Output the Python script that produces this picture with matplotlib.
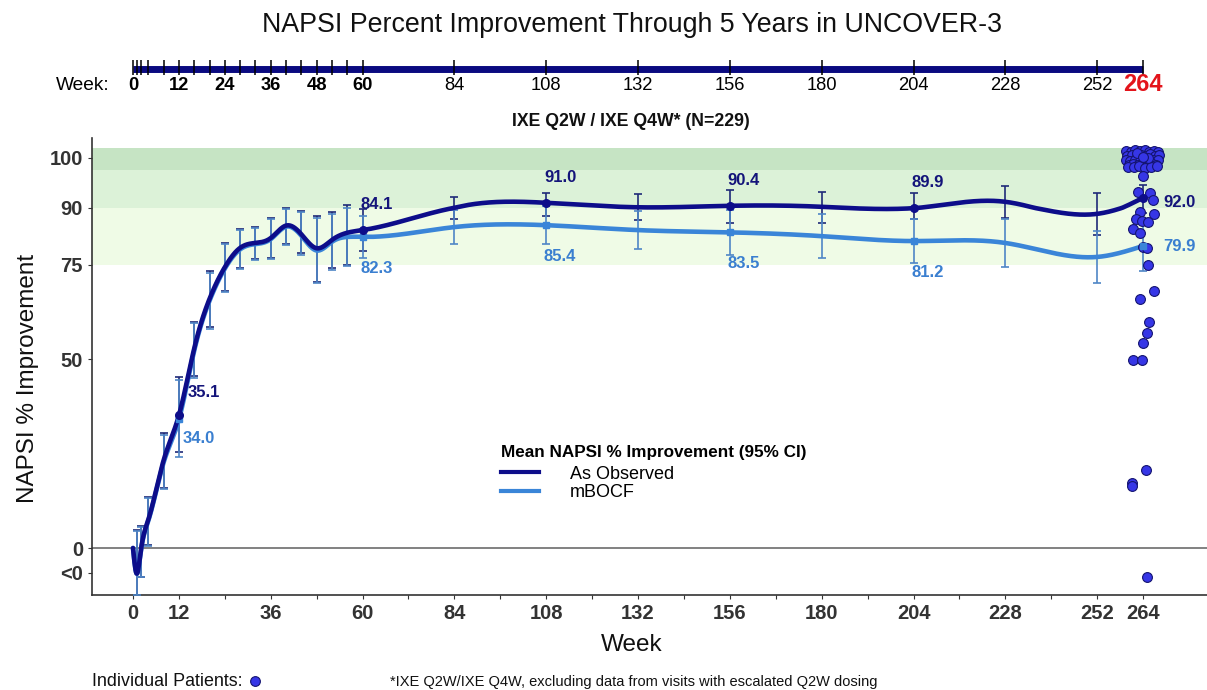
import numpy as np
import matplotlib
matplotlib.use("Agg")
import matplotlib.pyplot as plt
from matplotlib.lines import Line2D

plt.rcParams['font.family'] = ['Liberation Sans', 'DejaVu Sans']

# ---------------- data ----------------
weeks = [0, 1, 2, 4, 8, 12, 16, 20, 24, 28, 32, 36, 40, 44, 48, 52, 56, 60,
         84, 108, 132, 156, 180, 204, 228, 252, 264]

obs_mean = [0, -6.8, -1.0, 7.5, 23.2, 35.1, 52.8, 65.9, 74.3, 79.4, 80.7, 82.0,
            85.3, 83.0, 79.3, 81.5, 83.4, 84.1, 90.0, 91.0, 90.1, 90.4, 90.2,
            89.9, 91.2, 88.4, 92.0]
obs_lo = [np.nan, -12.4, -7.7, 0.8, 15.9, 25.4, 45.5, 58.5, 68.0, 74.1, 76.5,
          76.7, 80.4, 78.0, 70.4, 74.0, 74.9, 78.5, 87.0, 87.8, 86.8, 86.0,
          86.0, 87.0, 87.3, 82.8, 88.5]
obs_hi = [np.nan, 4.8, 5.8, 13.5, 30.4, 45.2, 59.8, 73.3, 80.7, 84.4, 84.9,
          87.3, 90.0, 89.2, 87.8, 88.9, 90.6, 89.7, 92.2, 93.0, 92.8, 93.6,
          93.2, 93.0, 94.4, 93.0, 94.6]

bocf_mean = [0, -6.8, -1.2, 7.2, 22.6, 34.0, 52.2, 65.4, 73.9, 79.0, 80.4, 81.7,
             85.0, 82.6, 78.7, 81.0, 82.3, 82.3, 84.9, 85.4, 84.1, 83.5, 82.5,
             81.2, 80.7, 77.0, 79.9]
bocf_lo = [np.nan, -12.4, -7.7, 0.6, 15.5, 24.1, 45.0, 58.0, 67.6, 73.8, 76.2,
           76.4, 80.1, 77.6, 70.0, 73.6, 74.6, 76.7, 80.4, 80.4, 79.1, 77.5,
           76.7, 75.4, 74.3, 70.1, 73.3]
bocf_hi = [np.nan, 4.6, 5.6, 13.2, 30.0, 44.4, 59.4, 72.8, 80.3, 84.1, 84.6,
           87.0, 89.8, 88.8, 87.4, 88.4, 90.0, 87.9, 89.4, 90.4, 89.1, 89.5,
           88.3, 87.0, 87.1, 83.9, 86.5]

labelled_weeks = [12, 60, 108, 156, 204, 264]

# individual patients at week 264 (jittered horizontally)
pat_week = [259.6, 260.8, 262.0, 263.2, 264.4, 265.6, 266.8, 268.0, 259.9, 261.1,
            262.3, 263.5, 264.7, 265.9, 267.1, 268.2, 259.5, 260.7, 261.9, 263.1,
            264.3, 265.5, 266.7, 267.9, 260.2, 261.4, 262.6, 263.8, 265.0, 266.2,
            267.4, 260.0, 261.6, 263.0, 264.6, 266.0, 267.6, 262.4, 265.2, 264.0,
            264.0, 262.7, 265.8, 266.6, 263.2, 266.9, 262.2, 263.7, 265.3, 261.4,
            263.2, 264.0, 265.0, 265.3, 266.9, 263.2, 265.6, 265.0, 264.0, 261.4,
            263.7, 264.8, 261.1, 261.1, 265.0]
pat_value = [101.4, 101.2, 101.5, 101.3, 101.5, 101.1, 101.4, 101.2, 100.3, 100.6,
             100.2, 100.5, 100.4, 100.7, 100.3, 100.5, 99.5, 99.3, 99.6, 99.4,
             99.7, 99.3, 99.5, 99.6, 98.6, 98.8, 98.5, 98.7, 98.4, 98.9,
             98.6, 98.2, 98.1, 98.3, 98.0, 98.2, 98.3, 100.9, 99.9, 100.1,
             96.4, 93.2, 93.0, 91.6, 88.9, 88.4, 87.0, 86.5, 86.2, 84.4,
             83.3, 79.6, 79.4, 74.9, 68.0, 65.9, 59.8, 56.9, 54.2, 49.7,
             49.7, 20.6, 17.2, 16.4, -7.7]

timeline_weeks = [0, 1, 2, 4, 8, 12, 16, 20, 24, 28, 32, 36, 40, 44, 48, 52, 56,
                  60, 84, 108, 132, 156, 180, 204, 228, 252, 264]
timeline_labels = [0, 12, 24, 36, 48, 60, 84, 108, 132, 156, 180, 204, 228, 252]

x_ticks = list(range(0, 265, 12))
x_ticklabels = ['0', '12', '', '36', '', '60', '', '84', '', '108', '', '132', '',
                '156', '', '180', '', '204', '', '228', '', '252', '264']
y_ticks = [-6.6, 0, 50, 75, 90, 100]
y_ticklabels = ['<0', '0', '50', '75', '90', '100']

# ---------------- helpers ----------------
K = 5.0 / 3.78  # stretch of the scale above 90


def fwd(v):
    v = np.asarray(v, dtype=float)
    return np.where(v <= 90, v, 90 + (v - 90) * K)


def inv(u):
    u = np.asarray(u, dtype=float)
    return np.where(u <= 90, u, 90 + (u - 90) / K)


def natural_spline(x, y, xs):
    x = np.asarray(x, float); y = np.asarray(y, float)
    n = len(x)
    h = np.diff(x)
    A = np.zeros((n, n)); r = np.zeros(n)
    A[0, 0] = 1; A[-1, -1] = 1
    for i in range(1, n - 1):
        A[i, i - 1] = h[i - 1]; A[i, i] = 2 * (h[i - 1] + h[i]); A[i, i + 1] = h[i]
        r[i] = 3 * ((y[i + 1] - y[i]) / h[i] - (y[i] - y[i - 1]) / h[i - 1])
    c = np.linalg.solve(A, r)
    b = (y[1:] - y[:-1]) / h - h * (2 * c[:-1] + c[1:]) / 3
    d = (c[1:] - c[:-1]) / (3 * h)
    idx = np.clip(np.searchsorted(x, xs) - 1, 0, n - 2)
    dx = xs - x[idx]
    return y[idx] + b[idx] * dx + c[idx] * dx ** 2 + d[idx] * dx ** 3


NAVY = '#0d0d8a'
LIGHT = '#3a85d8'
NAVY_TXT = '#14147a'
LIGHT_TXT = '#3a7fd0'
GREY = '#333333'

W, H = 1207, 690
fig = plt.figure(figsize=(W / 100, H / 100), dpi=100)

L = 92 / W
B = 1 - 595 / H
T = 1 - 138 / H
ax = fig.add_axes([L, B, 1 - L, T - B])
ax.set_yscale('function', functions=(fwd, inv))
xlim = ((92 - 133) / 3.826, (1207 - 133) / 3.826)
ax.set_xlim(*xlim)
ax.set_ylim(-12.43, 103.96)

# background bands
ax.axhspan(97.5, 102.0, color='#c6e4c4', lw=0, zorder=0)
ax.axhspan(90.0, 97.5, color='#dcf2d8', lw=0, zorder=0)
ax.axhspan(75.0, 90.0, color='#effbe6', lw=0, zorder=0)
ax.axhline(0, color='#777777', lw=1.3, zorder=1)

wk = np.array(weeks, float)
xs = np.linspace(0, 264, 2000)

m = ~np.isnan(np.array(bocf_lo))
bm = np.array(bocf_mean); bl = np.array(bocf_lo); bh = np.array(bocf_hi)
om = np.array(obs_mean); ol = np.array(obs_lo); oh = np.array(obs_hi)

# As observed error bars
ax.errorbar(wk[m], om[m], yerr=[om[m] - ol[m], oh[m] - om[m]], fmt='none',
            ecolor='#1f2a78', elinewidth=1.2, capsize=3, capthick=1.2, zorder=2.5)
# mBOCF error bars
ax.errorbar(wk[m], bm[m], yerr=[bm[m] - bl[m], bh[m] - bm[m]], fmt='none',
            ecolor='#4f86c6', elinewidth=1.2, capsize=3, capthick=1.2, zorder=2.6)

ax.plot(xs, natural_spline(wk, bm, xs), color=LIGHT, lw=3.3, zorder=3,
        solid_capstyle='round')
ax.plot(xs, natural_spline(wk, om, xs), color=NAVY, lw=3.3, zorder=3.5,
        solid_capstyle='round')

# individual patients
ax.scatter(pat_week, pat_value, s=50, facecolor='#3636e6', edgecolor='#141470',
           linewidth=0.8, zorder=4)

# markers + labels
for w in labelled_weeks:
    i = weeks.index(w)
    ax.plot(w, obs_mean[i], 'o', color=NAVY, ms=5.5, zorder=5)
    ax.plot(w, bocf_mean[i], 's', color=LIGHT, ms=5, zorder=4.5)
    if w == 12:
        ax.annotate(f'{obs_mean[i]:.1f}', (w, obs_mean[i]), xytext=(6.5, 16.5),
                    textcoords='offset points', ha='left', va='center',
                    color=NAVY_TXT, fontsize=12, fontweight='bold')
        ax.annotate(f'{bocf_mean[i]:.1f}', (w, bocf_mean[i]), xytext=(3, -14),
                    textcoords='offset points', ha='left', va='center',
                    color=LIGHT_TXT, fontsize=12, fontweight='bold')
    elif w == 264:
        ax.annotate(f'{obs_mean[i]:.1f}', (w, obs_mean[i]), xytext=(14.5, -3.5),
                    textcoords='offset points', ha='left', va='center',
                    color=NAVY_TXT, fontsize=12, fontweight='bold')
        ax.annotate(f'{bocf_mean[i]:.1f}', (w, bocf_mean[i]), xytext=(14.5, -0.5),
                    textcoords='offset points', ha='left', va='center',
                    color=LIGHT_TXT, fontsize=12, fontweight='bold')
    else:
        ax.annotate(f'{obs_mean[i]:.1f}', (w, obs_mean[i]), xytext=(10, 18.5),
                    textcoords='offset points', ha='center', va='center',
                    color=NAVY_TXT, fontsize=12, fontweight='bold')
        ax.annotate(f'{bocf_mean[i]:.1f}', (w, bocf_mean[i]), xytext=(10, -22.5),
                    textcoords='offset points', ha='center', va='center',
                    color=LIGHT_TXT, fontsize=12, fontweight='bold')

# axes styling
for s in ['top', 'right']:
    ax.spines[s].set_visible(False)
for s in ['left', 'bottom']:
    ax.spines[s].set_color(GREY)
    ax.spines[s].set_linewidth(1.2)
ax.set_xticks(x_ticks)
ax.set_xticklabels(x_ticklabels)
ax.set_yticks(y_ticks)
ax.set_yticklabels(y_ticklabels)
ax.tick_params(axis='both', colors=GREY, length=3, width=0.8, labelsize=14.5)
for t in ax.get_xticklabels() + ax.get_yticklabels():
    t.set_fontweight('bold')
    t.set_color(GREY)
ax.set_xlabel('Week', fontsize=17.5, color='#111111')
ax.xaxis.set_label_coords((632 - 92) / 1115, (595 - 634) / 457)
ax.set_ylabel('NAPSI % Improvement', fontsize=17.5, color='#111111')
ax.yaxis.set_label_coords((39 - 92) / 1115, (595 - 378) / 457)

leg_handles = [Line2D([], [], color=NAVY, lw=3), Line2D([], [], color=LIGHT, lw=3)]
leg = ax.legend(leg_handles, ['As Observed', 'mBOCF'],
                title='Mean NAPSI % Improvement (95% CI)',
                title_fontproperties={'weight': 'bold', 'size': 12.3},
                fontsize=13, frameon=False, loc='upper left',
                bbox_to_anchor=((501 - 92) / 1115, (595 - 445) / 457),
                borderpad=0, borderaxespad=0, handlelength=2.1,
                handletextpad=1.7, labelspacing=0.1, alignment='left')
leg._legend_box.sep = 4.0

# ---------------- top timeline ----------------
tax = fig.add_axes([L, 1 - 100 / H, 1 - L, 45 / H])
tax.set_xlim(*xlim)
tax.set_ylim(0, 1)
tax.axis('off')
tax.plot([0, 264], [0.7, 0.7], color='#0a0a80', lw=5, solid_capstyle='butt')
tax.vlines(timeline_weeks, 0.56, 0.88, color='black', lw=1.1)
for w in timeline_labels:
    tax.text(w, 0.32, str(w), ha='center', va='center', fontsize=13.2,
             fontweight='bold' if w <= 60 else 'normal', color='black')
tax.text(264, 0.35, '264', ha='center', va='center', fontsize=17,
         fontweight='bold', color='#e3141b')
tax.text(-6.0, 0.32, 'Week:', ha='right', va='center', fontsize=13.8,
         color='black')

# titles and notes
fig.text(631.5 / W, 1 - 25 / H, 'NAPSI Percent Improvement Through 5 Years in UNCOVER-3',
         ha='center', va='center', fontsize=19.3, color='#111111')
fig.text(631 / W, 1 - 122 / H, 'IXE Q2W / IXE Q4W* (N=229)', ha='center',
         va='center', fontsize=12.7, fontweight='bold', color='#111111')
fig.text(92 / W, 1 - 681 / H, 'Individual Patients:', ha='left', va='center',
         fontsize=12.9, color='#111111')
fig.add_artist(Line2D([255 / W], [1 - 681 / H], marker='o', ms=7,
                      markerfacecolor='#3636e6', markeredgecolor='#141470',
                      markeredgewidth=0.8, transform=fig.transFigure))
fig.text(390 / W, 1 - 682 / H,
         '*IXE Q2W/IXE Q4W, excluding data from visits with escalated Q2W dosing',
         ha='left', va='center', fontsize=10.5, color='#111111')

fig.savefig('out.png', dpi=100)
